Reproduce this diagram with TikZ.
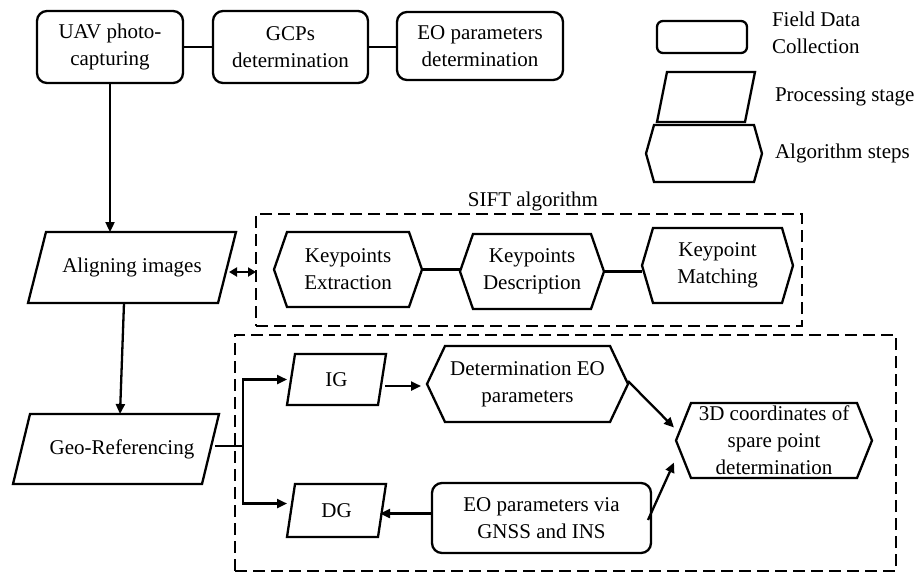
\documentclass[tikz,border=0pt]{standalone}
\usepackage{fontspec}
\setmainfont{Liberation Serif}
\newfontfamily\tnrfont{Liberation Serif}
\usetikzlibrary{arrows.meta,calc}
\tikzset{
  base/.style={inner sep=0pt, outer sep=0pt, align=center, font=\tnrfont\fontsize{21}{27}\selectfont},
  fieldbox/.style={base, draw, line width=2.3pt, rounded corners=10pt},
  procbox/.style={base},
  algbox/.style={base},
  legtext/.style={base, anchor=west, align=left},
  group/.style={draw, line width=2.3pt, dash pattern=on 12pt off 6pt, inner sep=0pt, outer sep=0pt},
  conn/.style={line width=2.3pt},
  arr/.style={line width=2.3pt, -{Triangle[length=10pt,width=9pt]}},
  darr/.style={line width=2.3pt, {Triangle[length=8pt,width=9pt]}-{Triangle[length=8pt,width=9pt]}},
  outline/.style={draw, line width=2.3pt, line join=miter}
}
% parallelogram outline around node #1 with slant #2
\newcommand\parashape[2]{\draw[outline] ([xshift=#2]#1.north west) -- (#1.north east) -- ([xshift=-#2]#1.south east) -- (#1.south west) -- cycle;}
% hexagon outline around node #1 with point depth #2
\newcommand\hexshape[2]{\draw[outline] ([xshift=#2]#1.north west) -- ([xshift=-#2]#1.north east) -- (#1.east) -- ([xshift=-#2]#1.south east) -- ([xshift=#2]#1.south west) -- (#1.west) -- cycle;}
\begin{document}
\begin{tikzpicture}[x=1pt,y=-1pt]
\useasboundingbox (0,0) rectangle (917,574);

% top row
\node[fieldbox, minimum width=146pt, minimum height=72pt] (uav) at (110,47) {UAV photo-\\capturing};
\node[fieldbox, minimum width=155pt, minimum height=72pt] (gcp) at (290.5,47) {GCPs\\determination};
\node[fieldbox, minimum width=166pt, minimum height=68pt] (eo) at (480,46) {EO parameters\\determination};
\draw[conn] (uav.east) -- (gcp.west);
\draw[conn] (gcp.east) -- (gcp.east -| eo.west);

% legend
\node[fieldbox, rounded corners=6pt, minimum width=90pt, minimum height=32pt] (lrect) at (702,37) {};
\node[legtext] (ltxt1) at (772,32.5) {Field Data\\Collection};
\node[procbox, minimum width=98pt, minimum height=50pt] (lpar) at (706,97) {};
\parashape{lpar}{10pt}
\node[legtext] (ltxt2) at (775,97) {Processing stage};
\node[algbox, minimum width=116pt, minimum height=57pt] (lhex) at (704,153.5) {};
\hexshape{lhex}{8pt}
\node[legtext] (ltxt3) at (775,153) {Algorithm steps};

% SIFT group
\node[base] (siftlbl) at (533,201) {SIFT algorithm};
\node[group, minimum width=546pt, minimum height=112pt] (sift) at (529,270) {};
\node[algbox, minimum width=148pt, minimum height=75pt] (kpe) at (348,269.5) {Keypoints\\Extraction};
\hexshape{kpe}{13pt}
\node[algbox, minimum width=144pt, minimum height=75pt] (kpd) at (532,271.5) {Keypoints\\Description};
\hexshape{kpd}{13pt}
\node[algbox, minimum width=151pt, minimum height=75pt] (kpm) at (717.5,265.5) {Keypoint\\Matching};
\hexshape{kpm}{11pt}
\draw[conn] (kpe.east) -- (kpe.east -| kpd.west);
\draw[conn] (kpd.east) -- (kpd.east -| kpm.west);

% left column
\node[procbox, minimum width=208pt, minimum height=71pt] (align) at (132,267.5) {Aligning images};
\parashape{align}{18pt}
\node[procbox, minimum width=206pt, minimum height=70pt] (geo) at (116,449) {\hspace*{12pt}Geo-Referencing};
\parashape{geo}{17pt}
\draw[arr] (uav.south) -- (uav.south |- align.north);
\draw[arr] ($(align.south)+(-8,0)$) -- ($(geo.north)+(4,0)$);
\draw[darr] ($(align.east)+(-7,4.5)$) -- ($(align.east -| sift.west)+(0,4.5)$);

% georeferencing group
\node[group, minimum width=661pt, minimum height=236pt] (geogrp) at (565.5,453) {};
\node[procbox, minimum width=99pt, minimum height=51pt] (ig) at (336.5,379.5) {IG};
\parashape{ig}{8pt}
\node[procbox, minimum width=99pt, minimum height=53pt] (dg) at (336.5,510.5) {DG};
\parashape{dg}{8pt}
\coordinate (br) at (243,446);
\draw[conn] ($(geo.east)+(-4,-3)$) -- (br);
\draw[arr] (br) |- (ig.west);
\draw[arr] (br) |- ($(dg.west)+(0,-7)$);

\node[algbox, minimum width=201pt, minimum height=76pt] (deo) at (527.5,384) {Determination EO\\parameters};
\hexshape{deo}{18pt}
\node[algbox, minimum width=196pt, minimum height=75pt] (p3d) at (774,440.5) {3D coordinates of\\spare point\\determination};
\hexshape{p3d}{15pt}
\node[fieldbox, minimum width=219pt, minimum height=70pt] (gnss) at (541.5,518) {EO parameters via\\GNSS and INS};

\draw[arr] ($(ig.east |- deo.west)+(-1,2)$) -- ($(deo.west)+(-6,2)$);
\draw[arr] ($(deo.east)+(0,-3)$) -- ($(p3d.west)+(-2,-13)$);
\draw[arr] ($(gnss.east)+(-3,2)$) -- ($(p3d.west)+(-2,22)$);
\draw[arr] ($(gnss.west)+(0,-4.5)$) -- ($(gnss.west -| dg.east)+(-6,-4.5)$);
\end{tikzpicture}
\end{document}
